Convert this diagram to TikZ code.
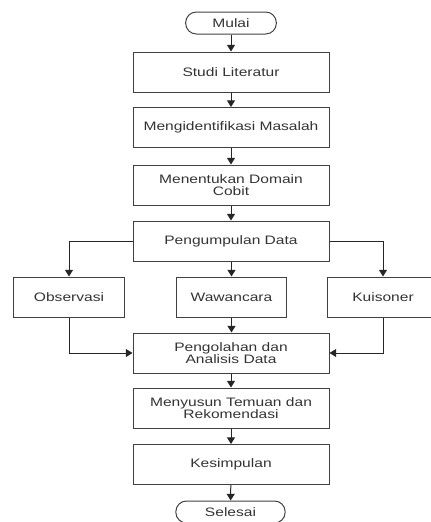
\documentclass[tikz,border=0pt]{standalone}
\usepackage{fontspec}
\setmainfont{Liberation Sans}[FakeStretch=1.27]
\usetikzlibrary{arrows.meta}
\begin{document}
\begin{tikzpicture}[x=0.75pt, y=-0.75pt,
    box/.style = {draw = black!75, line width = 0.75pt, minimum width = 147pt, minimum height = 30pt,
      align = center, text = black!80, font = \fontsize{9.2}{9.2}\selectfont, inner sep = 1pt},
    smallbox/.style = {box, minimum width = 83pt},
    terminal/.style = {box, rounded corners = 8pt, minimum width = 68pt, minimum height = 16.5pt},
    arr/.style = {draw = black!85, line width = 0.75pt, -{Triangle[width = 6pt, length = 5pt]}}]
    \useasboundingbox (0,0) rectangle (431,522);

    \node[terminal] (mulai) at (231, 23) {Mulai};
    \node[box] (studi) at (231, 72) {Studi Literatur};
    \node[box] (masalah) at (231, 127.5) {Mengidentifikasi Masalah};
    \node[box] (domain) at (231, 185) {Menentukan Domain\\Cobit};
    \node[box] (kumpul) at (231, 241) {Pengumpulan Data};

    \node[smallbox] (obs) at (69, 297) {Observasi};
    \node[smallbox] (wawan) at (231.5, 297) {Wawancara};
    \node[smallbox] (kuis) at (383, 297) {Kuisoner};

    \node[box] (olah) at (231, 353) {Pengolahan dan\\Analisis Data};
    \node[box] (temuan) at (231, 408) {Menyusun Temuan dan\\Rekomendasi};
    \node[box] (simpul) at (231, 464.5) {Kesimpulan};
    \node[terminal, minimum width = 82pt] (selesai) at (230.5, 512) {Selesai};

    \draw[arr] (mulai) -- (studi);
    \draw[arr] (studi) -- (masalah);
    \draw[arr] (masalah) -- (domain);
    \draw[arr] (domain) -- (kumpul);

    \draw[arr] (kumpul.west) -| (obs.north);
    \draw[arr] (kumpul.south -| wawan.north) -- (wawan.north);
    \draw[arr] (kumpul.east) -| (kuis.north);

    \draw[arr] (obs.south) |- (olah.west);
    \draw[arr] (wawan.south) -- (wawan.south |- olah.north);
    \draw[arr] (kuis.south) |- (olah.east);

    \draw[arr] (olah) -- (temuan);
    \draw[arr] (temuan) -- (simpul);
    \draw[arr] (simpul) -- (selesai);

\end{tikzpicture}
\end{document}
